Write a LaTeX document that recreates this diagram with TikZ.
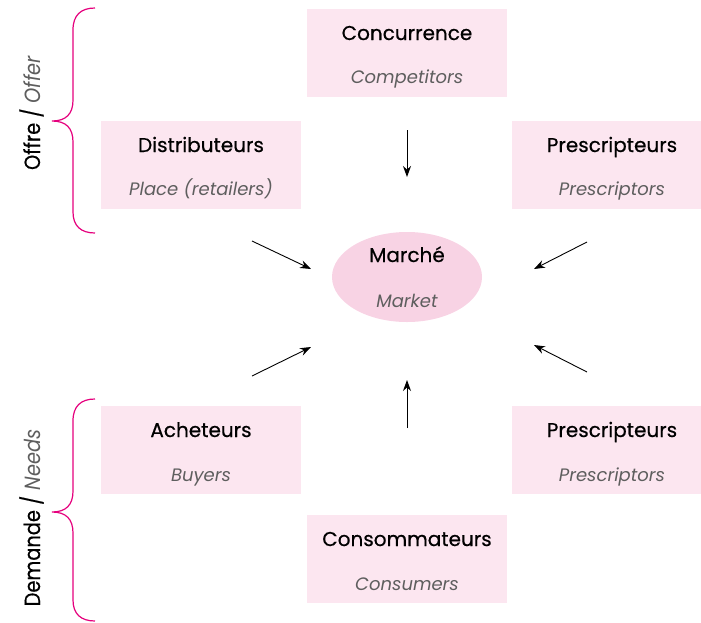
\documentclass[tikz,border=0pt]{standalone}
\usepackage{fontspec}
\setmainfont{Poppins}
\usetikzlibrary{arrows.meta,shapes.geometric}
\definecolor{boxpink}{HTML}{FCE6F0}
\definecolor{ellpink}{HTML}{F8D3E4}
\definecolor{bracecol}{HTML}{E5007D}
\definecolor{subgray}{HTML}{5E5E5E}
\begin{document}
\begin{tikzpicture}[x=1pt,y=-1pt,
  box/.style={fill=boxpink, draw=none, minimum width=200pt, minimum height=88pt, anchor=north west, inner sep=0pt},
  ttl/.style={font=\fontsize{20}{24}\selectfont\addfontfeature{FakeBold=0.5}, text=black, anchor=base, inner sep=0pt},
  sub/.style={font=\fontsize{18}{22}\selectfont\itshape, text=subgray, anchor=base, inner sep=0pt},
  arr/.style={-{Stealth[length=11pt,width=8pt]}, line width=0.9pt},
  brc/.style={draw=bracecol, line width=1.2pt},
  side/.style={font=\fontsize{22}{26}\selectfont\addfontfeature{FakeStretch=0.88}, rotate=90, anchor=base, inner sep=0pt}]
\useasboundingbox (0,0) rectangle (701,622);
% boxes
\node[box] (conc) at (307,9) {};
\node[box] (dist) at (101,121) {};
\node[box] (pres1) at (512,121) {};
\node[box] (ach) at (101,406) {};
\node[box] (pres2) at (512,406) {};
\node[box] (cons) at (307,515) {};
\node[ellipse, fill=ellpink, minimum width=150pt, minimum height=90pt, inner sep=0pt] (mkt) at (407,277) {};
% texts
\node[ttl] (conc-t) at (407,40) {Concurrence};
\node[sub] (conc-s) at (407,83) {Competitors};
\node[ttl] (dist-t) at (201,152) {Distributeurs};
\node[sub] (dist-s) at (201,195) {Place (retailers)};
\node[ttl] (pres1-t) at (612,152) {Prescripteurs};
\node[sub] (pres1-s) at (612,195) {Prescriptors};
\node[ttl] (mkt-t) at (407,262) {Marché};
\node[sub] (mkt-s) at (407,307) {Market};
\node[ttl] (ach-t) at (201,437) {Acheteurs};
\node[sub] (ach-s) at (201,481) {Buyers};
\node[ttl] (pres2-t) at (612,437) {Prescripteurs};
\node[sub] (pres2-s) at (612,481) {Prescriptors};
\node[ttl] (cons-t) at (407,546) {Consommateurs};
\node[sub] (cons-s) at (407,590) {Consumers};
% arrows
\coordinate (a1s) at (407,130); \coordinate (a1e) at (407,177);
\coordinate (a2s) at (252,241); \coordinate (a2e) at (311,269);
\coordinate (a3s) at (587,242); \coordinate (a3e) at (534,269);
\coordinate (a4s) at (252,376); \coordinate (a4e) at (311,347);
\coordinate (a5s) at (587,372); \coordinate (a5e) at (534,345);
\coordinate (a6s) at (407,428); \coordinate (a6e) at (407,380);
\draw[arr] (a1s) -- (a1e);
\draw[arr] (a2s) -- (a2e);
\draw[arr] (a3s) -- (a3e);
\draw[arr] (a4s) -- (a4e);
\draw[arr] (a5s) -- (a5e);
\draw[arr] (a6s) -- (a6e);
% braces
\draw[brc] (95,8) .. controls (81,8) and (73,15) .. (73,30) -- (73,100) .. controls (73,114) and (66,121) .. (52,121) .. controls (66,121) and (73,128) .. (73,142) -- (73,212) .. controls (73,226) and (81,233) .. (95,233);
\draw[brc] (95,399) .. controls (81,399) and (73,406) .. (73,421) -- (73,491) .. controls (73,505) and (66,512) .. (52,512) .. controls (66,512) and (73,519) .. (73,533) -- (73,600) .. controls (73,614) and (81,621) .. (95,621);
% side labels
\node[side] (offre) at (40,113) {\addfontfeature{FakeBold=0.5}Offre / \textcolor{subgray}{\addfontfeature{FakeBold=0}\itshape Offer}};
\node[side] (dem) at (40,518) {\addfontfeature{FakeBold=0.5}Demande / \textcolor{subgray}{\addfontfeature{FakeBold=0}\itshape Needs}};
\end{tikzpicture}
\end{document}
